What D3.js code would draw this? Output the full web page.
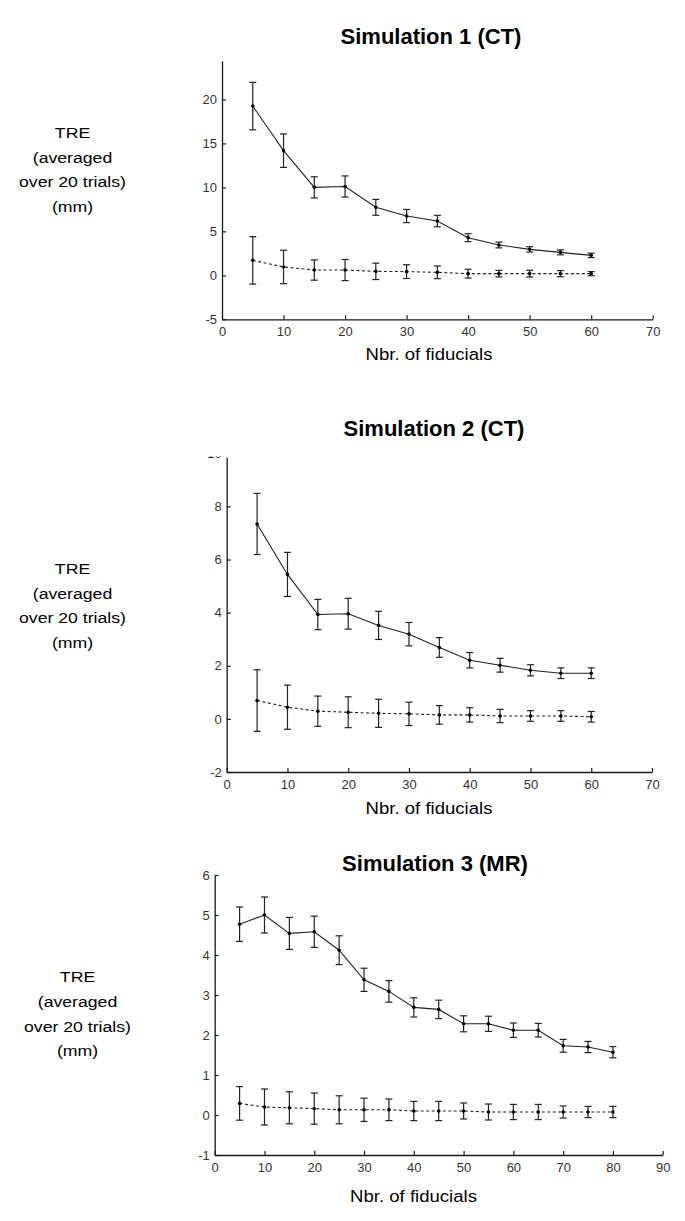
<!DOCTYPE html>
<html>
<head>
<meta charset="utf-8">
<script src="https://cdn.jsdelivr.net/npm/d3@7"></script>
<style>
  html, body { margin: 0; padding: 0; background: #fff; }
  svg { display: block; }
</style>
</head>
<body>
<svg id="chart" width="685" height="1221"></svg>
<script>
// ---------- DATA ----------
const titles = ["Simulation 1 (CT)", "Simulation 2 (CT)", "Simulation 3 (MR)"];
const xLabel = "Nbr. of fiducials";
const yLabelLines = ["TRE", "(averaged", "over 20 trials)", "(mm)"];

// Simulation 1
const sim1X = [5, 10, 15, 20, 25, 30, 35, 40, 45, 50, 55, 60];
const sim1Solid = [19.24, 14.17, 10.0, 10.1, 7.73, 6.74, 6.17, 4.28, 3.45, 2.95, 2.61, 2.27];
const sim1SolidErr = [2.7, 1.9, 1.2, 1.2, 0.9, 0.75, 0.65, 0.45, 0.33, 0.3, 0.28, 0.25];
const sim1Dashed = [1.7, 0.95, 0.6, 0.6, 0.45, 0.42, 0.34, 0.19, 0.19, 0.19, 0.19, 0.19];
const sim1DashedErr = [2.7, 1.9, 1.15, 1.2, 0.93, 0.78, 0.72, 0.5, 0.37, 0.38, 0.35, 0.23];
const sim1XTicks = [0, 10, 20, 30, 40, 50, 60, 70];
const sim1YTicks = [-5, 0, 5, 10, 15, 20];

// Simulation 2
const sim2X = [5, 10, 15, 20, 25, 30, 35, 40, 45, 50, 55, 60];
const sim2Solid = [7.34, 5.44, 3.93, 3.96, 3.52, 3.19, 2.69, 2.21, 2.02, 1.83, 1.72, 1.72];
const sim2SolidErr = [1.15, 0.83, 0.57, 0.58, 0.53, 0.44, 0.37, 0.29, 0.26, 0.21, 0.2, 0.2];
const sim2Dashed = [0.69, 0.44, 0.29, 0.25, 0.21, 0.19, 0.15, 0.15, 0.11, 0.11, 0.11, 0.08];
const sim2DashedErr = [1.16, 0.83, 0.57, 0.58, 0.53, 0.44, 0.35, 0.27, 0.25, 0.2, 0.2, 0.2];
const sim2XTicks = [0, 10, 20, 30, 40, 50, 60, 70];
const sim2YTicks = [-2, 0, 2, 4, 6, 8, 10];

// Simulation 3
const sim3X = [5, 10, 15, 20, 25, 30, 35, 40, 45, 50, 55, 60, 65, 70, 75, 80];
const sim3Solid = [4.77, 5.0, 4.54, 4.58, 4.12, 3.38, 3.09, 2.69, 2.64, 2.28, 2.28, 2.12, 2.12, 1.73, 1.7, 1.57];
const sim3SolidErr = [0.43, 0.45, 0.4, 0.39, 0.36, 0.29, 0.27, 0.24, 0.23, 0.2, 0.19, 0.18, 0.17, 0.16, 0.14, 0.14];
const sim3Dashed = [0.29, 0.2, 0.18, 0.16, 0.13, 0.13, 0.13, 0.1, 0.1, 0.1, 0.075, 0.075, 0.075, 0.075, 0.075, 0.075];
const sim3DashedErr = [0.42, 0.45, 0.4, 0.39, 0.35, 0.29, 0.27, 0.24, 0.24, 0.2, 0.2, 0.19, 0.19, 0.15, 0.14, 0.14];
const sim3XTicks = [0, 10, 20, 30, 40, 50, 60, 70, 80, 90];
const sim3YTicks = [-1, 0, 1, 2, 3, 4, 5, 6];

// ---------- LAYOUT ----------
const panels = [
  { title: titles[0], x: sim1X, solid: sim1Solid, solidErr: sim1SolidErr, dashed: sim1Dashed, dashedErr: sim1DashedErr,
    xTicks: sim1XTicks, yTicks: sim1YTicks, xDomain: [0, 70], yDomain: [-5, 24.4],
    xRange: [222, 652.7], yRange: [319.3, 60.7], titleX: 431, titleY: 43.5,
    xLabelX: 429, xLabelY: 359.5, yLabelX: 72.5, yLabelY: 138, clipTop: null },
  { title: titles[1], x: sim2X, solid: sim2Solid, solidErr: sim2SolidErr, dashed: sim2Dashed, dashedErr: sim2DashedErr,
    xTicks: sim2XTicks, yTicks: sim2YTicks, xDomain: [0, 70], yDomain: [-2, 9.85],
    xRange: [226.7, 652], yRange: [772, 457.3], titleX: 434, titleY: 436,
    xLabelX: 429, xLabelY: 814, yLabelX: 72.5, yLabelY: 574, clipTop: 456.3 },
  { title: titles[2], x: sim3X, solid: sim3Solid, solidErr: sim3SolidErr, dashed: sim3Dashed, dashedErr: sim3DashedErr,
    xTicks: sim3XTicks, yTicks: sim3YTicks, xDomain: [0, 90], yDomain: [-1, 6],
    xRange: [214.7, 662.7], yRange: [1155, 875], titleX: 435, titleY: 870.7,
    xLabelX: 413.5, xLabelY: 1201.7, yLabelX: 77.5, yLabelY: 982.3, clipTop: null }
];

const svg = d3.select("#chart");
const ink = "#1a1a1a";
const labelFont = "'Liberation Sans', Arial, Helvetica, sans-serif";
const fmt = d => String(d);

panels.forEach((p, i) => {
  const g = svg.append("g");
  const x = d3.scaleLinear().domain(p.xDomain).range(p.xRange);
  const y = d3.scaleLinear().domain(p.yDomain).range(p.yRange);

  // title
  g.append("text")
    .attr("x", p.titleX).attr("y", p.titleY)
    .attr("text-anchor", "middle")
    .style("font-family", labelFont).style("font-weight", "bold").style("font-size", "22px")
    .attr("fill", "#000")
    .text(p.title);

  // left label
  const yl = g.append("g").attr("transform", `translate(${p.yLabelX},0)`);
  yLabelLines.forEach((line, k) => {
    yl.append("text")
      .attr("transform", `translate(0,${p.yLabelY + k * 24.7}) scale(1.14,1)`)
      .attr("text-anchor", "middle")
      .style("font-family", labelFont).style("font-size", "15.5px")
      .attr("fill", "#000")
      .text(line);
  });

  // x label
  g.append("text")
    .attr("transform", `translate(${p.xLabelX},${p.xLabelY}) scale(1.14,1)`)
    .attr("text-anchor", "middle")
    .style("font-family", labelFont).style("font-size", "16.3px")
    .attr("fill", "#000")
    .text(xLabel);

  // axes
  const clipId = "clip" + i;
  if (p.clipTop !== null) {
    svg.append("defs").append("clipPath").attr("id", clipId)
      .append("rect").attr("x", -400).attr("y", p.clipTop).attr("width", 1200).attr("height", 1221);
  }

  const xAxis = d3.axisBottom(x).tickValues(p.xTicks).tickFormat(fmt).tickSizeInner(-4).tickSizeOuter(0).tickPadding(7.5);
  const yAxis = d3.axisLeft(y).tickValues(p.yTicks).tickFormat(fmt).tickSizeInner(-4).tickSizeOuter(0).tickPadding(5);

  const gx = g.append("g").attr("transform", `translate(0,${p.yRange[0]})`).call(xAxis);
  const gy = g.append("g").attr("transform", `translate(${p.xRange[0]},0)`).call(yAxis);
  if (p.clipTop !== null) gy.attr("clip-path", `url(#${clipId})`);

  [gx, gy].forEach(ax => {
    ax.select(".domain").attr("stroke", ink).attr("stroke-width", 1.3);
    ax.selectAll(".tick line").attr("stroke", ink).attr("stroke-width", 1.2);
    ax.selectAll(".tick text")
      .style("font-family", labelFont).style("font-size", "13px")
      .attr("fill", "#333");
  });

  // series
  const series = [
    { v: p.solid, e: p.solidErr, dash: null },
    { v: p.dashed, e: p.dashedErr, dash: "3,2.5" }
  ];
  const capW = 3.5;
  series.forEach(s => {
    const pts = p.x.map((xv, k) => ({ x: xv, v: s.v[k], e: s.e[k] }));
    const line = d3.line().x(d => x(d.x)).y(d => y(d.v));
    g.append("path").datum(pts)
      .attr("d", line)
      .attr("fill", "none")
      .attr("stroke", "#222")
      .attr("stroke-width", 1.1)
      .attr("stroke-dasharray", s.dash);

    const eb = g.append("g").selectAll("g").data(pts).join("g");
    eb.append("line")
      .attr("x1", d => x(d.x)).attr("x2", d => x(d.x))
      .attr("y1", d => y(d.v - d.e)).attr("y2", d => y(d.v + d.e))
      .attr("stroke", "#222").attr("stroke-width", 1.2);
    eb.append("line")
      .attr("x1", d => x(d.x) - capW).attr("x2", d => x(d.x) + capW)
      .attr("y1", d => y(d.v + d.e)).attr("y2", d => y(d.v + d.e))
      .attr("stroke", "#222").attr("stroke-width", 1.2);
    eb.append("line")
      .attr("x1", d => x(d.x) - capW).attr("x2", d => x(d.x) + capW)
      .attr("y1", d => y(d.v - d.e)).attr("y2", d => y(d.v - d.e))
      .attr("stroke", "#222").attr("stroke-width", 1.2);
    eb.append("circle")
      .attr("cx", d => x(d.x)).attr("cy", d => y(d.v))
      .attr("r", 1.8).attr("fill", "#000");
  });
});
</script>
</body>
</html>
